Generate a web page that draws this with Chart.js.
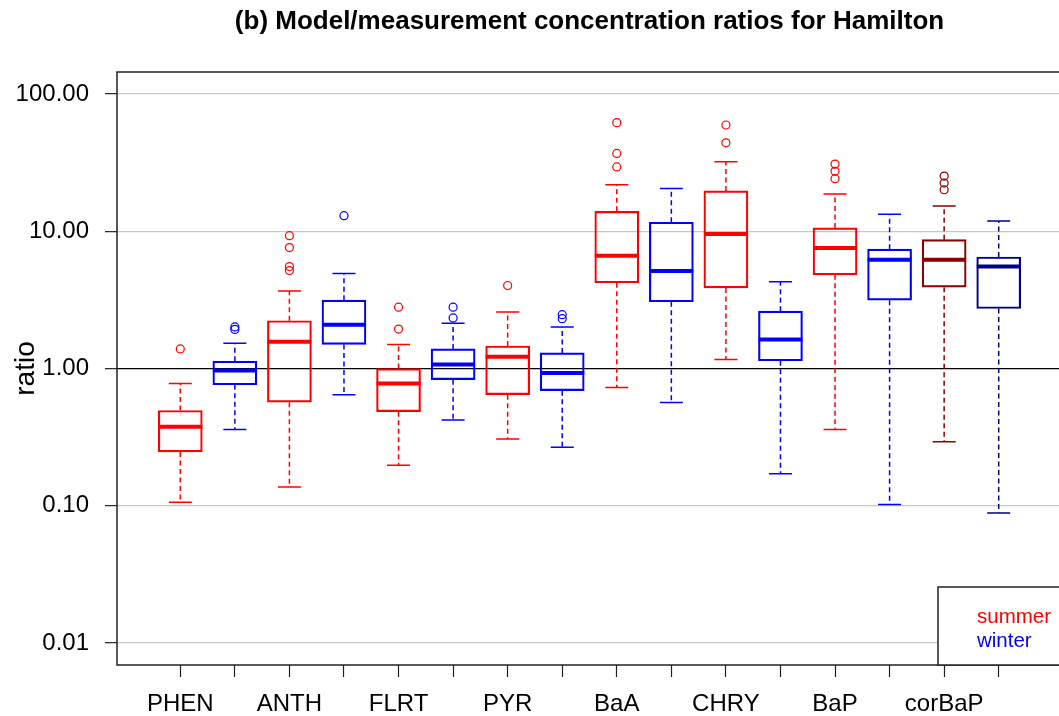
<!DOCTYPE html>
<html lang="en">
<head>
    <meta charset="UTF-8">
    <title>Model/measurement concentration ratios for Hamilton</title>
    <script src="https://cdn.jsdelivr.net/npm/chart.js"></script>
    <style>
        body {
            margin: 0;
            padding: 0;
            background-color: #fff;
            width: 1059px;
            height: 716px;
            overflow: hidden;
        }
        .chart-container {
            width: 1070px;
            height: 716px;
        }
    </style>
</head>
<body>
    <div class="chart-container">
        <canvas id="chart" width="1070" height="716"></canvas>
    </div>
    <script>
        // compounds, one summer box and one winter box each
        const compounds = ["PHEN", "ANTH", "FLRT", "PYR", "BaA", "CHRY", "BaP", "corBaP"];
        const yTicks = [0.01, 0.1, 1, 10, 100];

        // summer boxes
        const summerLow = [0.106, 0.137, 0.197, 0.307, 0.727, 1.165, 0.36, 0.293];
        const summerQ1 = [0.247, 0.569, 0.485, 0.645, 4.22, 3.87, 4.82, 3.92];
        const summerMedian = [0.377, 1.57, 0.777, 1.22, 6.63, 9.55, 7.57, 6.20];
        const summerQ3 = [0.495, 2.23, 1.00, 1.46, 14.0, 19.7, 10.6, 8.70];
        const summerHigh = [0.777, 3.67, 1.50, 2.58, 21.9, 32.1, 18.7, 15.3];
        const summerOutliers = [[1.39], [9.3, 7.62, 5.54, 5.18], [2.80, 1.94], [4.03],
            [62.0, 37.0, 29.5], [59.6, 44.2], [30.9, 27.4, 24.2], [25.3, 22.5, 20.1]];

        // winter boxes
        const winterLow = [0.36, 0.645, 0.422, 0.267, 0.565, 0.171, 0.102, 0.0887];
        const winterQ1 = [0.762, 1.50, 0.83, 0.69, 3.07, 1.14, 3.15, 2.74];
        const winterMedian = [0.967, 2.09, 1.07, 0.93, 5.15, 1.63, 6.20, 5.54];
        const winterQ3 = [1.13, 3.15, 1.39, 1.30, 11.65, 2.62, 7.42, 6.50];
        const winterHigh = [1.53, 4.92, 2.14, 2.01, 20.5, 4.30, 13.3, 11.9];
        const winterOutliers = [[2.01, 1.93], [13.0], [2.80, 2.34], [2.47, 2.31], [], [], [], []];

        const summerColors = ["#FF0000", "#FF0000", "#FF0000", "#FF0000", "#FF0000", "#FF0000", "#FF0000", "#8B0000"];
        const winterColors = ["#0000FF", "#0000FF", "#0000FF", "#0000FF", "#0000FF", "#0000FF", "#0000FF", "#00008B"];

        const FONT = "'Liberation Sans', Arial, sans-serif";

        function buildSeason(offset, low, q1, med, q3, high, outliers, colors) {
            const boxes = [];
            const points = [];
            const pointColors = [];
            compounds.forEach((c, i) => {
                const x = 2 * i + offset;
                boxes.push({ x: x, y: [q1[i], q3[i]], low: low[i], med: med[i], high: high[i], color: colors[i] });
                outliers[i].forEach(v => {
                    points.push({ x: x, y: v });
                    pointColors.push(colors[i]);
                });
            });
            return { boxes, points, pointColors };
        }

        const summer = buildSeason(1, summerLow, summerQ1, summerMedian, summerQ3, summerHigh, summerOutliers, summerColors);
        const winter = buildSeason(2, winterLow, winterQ1, winterMedian, winterQ3, winterHigh, winterOutliers, winterColors);

        // whiskers, caps and medians drawn with the chart's own scales
        const whiskerPlugin = {
            id: "whiskers",
            afterDatasetsDraw(chart) {
                const ctx = chart.ctx;
                const xs = chart.scales.x;
                const ys = chart.scales.y;
                ctx.save();
                [summer, winter].forEach(season => {
                    season.boxes.forEach(b => {
                        const x = xs.getPixelForValue(b.x);
                        const yLow = ys.getPixelForValue(b.low);
                        const yQ1 = ys.getPixelForValue(b.y[0]);
                        const yQ3 = ys.getPixelForValue(b.y[1]);
                        const yHigh = ys.getPixelForValue(b.high);
                        const yMed = ys.getPixelForValue(b.med);
                        ctx.strokeStyle = b.color;
                        ctx.lineWidth = 1.5;
                        ctx.setLineDash([5, 3.5]);
                        ctx.beginPath();
                        ctx.moveTo(x, yQ3); ctx.lineTo(x, yHigh);
                        ctx.moveTo(x, yQ1); ctx.lineTo(x, yLow);
                        ctx.stroke();
                        ctx.setLineDash([]);
                        ctx.beginPath();
                        ctx.moveTo(x - 11.5, yHigh); ctx.lineTo(x + 11.5, yHigh);
                        ctx.moveTo(x - 11.5, yLow); ctx.lineTo(x + 11.5, yLow);
                        ctx.stroke();
                        ctx.lineWidth = 4;
                        ctx.beginPath();
                        ctx.moveTo(x - 22, yMed); ctx.lineTo(x + 22, yMed);
                        ctx.stroke();
                    });
                });
                ctx.restore();
            },
            afterDraw(chart) {
                const ctx = chart.ctx;
                const a = chart.chartArea;
                ctx.save();
                // frame
                ctx.strokeStyle = "#222";
                ctx.lineWidth = 1.5;
                ctx.strokeRect(a.left, a.top, a.right - a.left, a.bottom - a.top);
                // legend, bottom right
                const lx = a.right - 124, ly = a.bottom - 78;
                ctx.fillStyle = "#fff";
                ctx.fillRect(lx, ly, a.right - lx, a.bottom - ly);
                ctx.strokeRect(lx, ly, a.right - lx, a.bottom - ly);
                ctx.font = "20.5px " + FONT;
                ctx.textAlign = "left";
                ctx.textBaseline = "alphabetic";
                ctx.fillStyle = "#FF0000";
                ctx.fillText("summer", lx + 39, ly + 36);
                ctx.fillStyle = "#0000FF";
                ctx.fillText("winter", lx + 39, ly + 60);
                ctx.restore();
            }
        };

        const boxStyle = {
            type: "bar",
            backgroundColor: "rgba(0,0,0,0)",
            borderWidth: 1.5,
            borderSkipped: false,
            barThickness: 44,
            grouped: false,
            parsing: { xAxisKey: "x", yAxisKey: "y" }
        };

        new Chart(document.getElementById("chart"), {
            data: {
                datasets: [
                    Object.assign({ label: "summer", data: summer.boxes, borderColor: summer.boxes.map(b => b.color) }, boxStyle),
                    Object.assign({ label: "winter", data: winter.boxes, borderColor: winter.boxes.map(b => b.color) }, boxStyle),
                    {
                        type: "scatter", label: "summer outliers", data: summer.points,
                        borderColor: summer.pointColors, backgroundColor: "rgba(0,0,0,0)",
                        pointRadius: 4, borderWidth: 1.2
                    },
                    {
                        type: "scatter", label: "winter outliers", data: winter.points,
                        borderColor: winter.pointColors, backgroundColor: "rgba(0,0,0,0)",
                        pointRadius: 4, borderWidth: 1.2
                    }
                ]
            },
            options: {
                responsive: false,
                animation: false,
                layout: { padding: { left: 0, right: 8, top: 0, bottom: 0 } },
                plugins: {
                    legend: { display: false },
                    tooltip: { enabled: false },
                    title: {
                        display: true,
                        text: "(b) Model/measurement concentration ratios for Hamilton",
                        fullSize: false,
                        color: "#000",
                        font: { family: FONT, size: 26, weight: "bold" },
                        padding: { top: 6, bottom: 34.8 }
                    }
                },
                scales: {
                    x: {
                        type: "linear",
                        offset: false,
                        min: -0.16,
                        max: 17.16,
                        afterBuildTicks: (s) => { s.ticks = compounds.flatMap((c, i) => [{ value: 2 * i + 1 }, { value: 2 * i + 2 }]); },
                        afterFit: (s) => { s.height = 51; },
                        ticks: {
                            autoSkip: false,
                            maxRotation: 0,
                            padding: 13,
                            color: "#000",
                            font: { family: FONT, size: 24 },
                            callback: (v) => (v % 2 === 1 ? compounds[(v - 1) / 2] : "")
                        },
                        grid: { offset: false, drawOnChartArea: false, drawTicks: true, tickLength: 12, tickColor: "#222", tickWidth: 1.2 },
                        border: { display: false }
                    },
                    y: {
                        type: "logarithmic",
                        min: 0.00691,
                        max: 145,
                        afterBuildTicks: (s) => { s.ticks = yTicks.map(v => ({ value: v })); },
                        afterFit: (s) => { s.width = 117; },
                        ticks: {
                            padding: 16,
                            color: "#000",
                            font: { family: FONT, size: 24 },
                            callback: (v) => Number(v).toFixed(2)
                        },
                        grid: {
                            color: (c) => (c.tick && c.tick.value === 1 ? "#000" : "#c8c8c8"),
                            lineWidth: 1.3,
                            tickLength: 12,
                            tickColor: "#222",
                            tickWidth: 1.2
                        },
                        border: { display: false },
                        title: {
                            display: true,
                            text: "ratio",
                            color: "#000",
                            font: { family: FONT, size: 28 },
                            padding: { top: 9, bottom: 0 }
                        }
                    }
                }
            },
            plugins: [whiskerPlugin]
        });
    </script>
</body>
</html>
